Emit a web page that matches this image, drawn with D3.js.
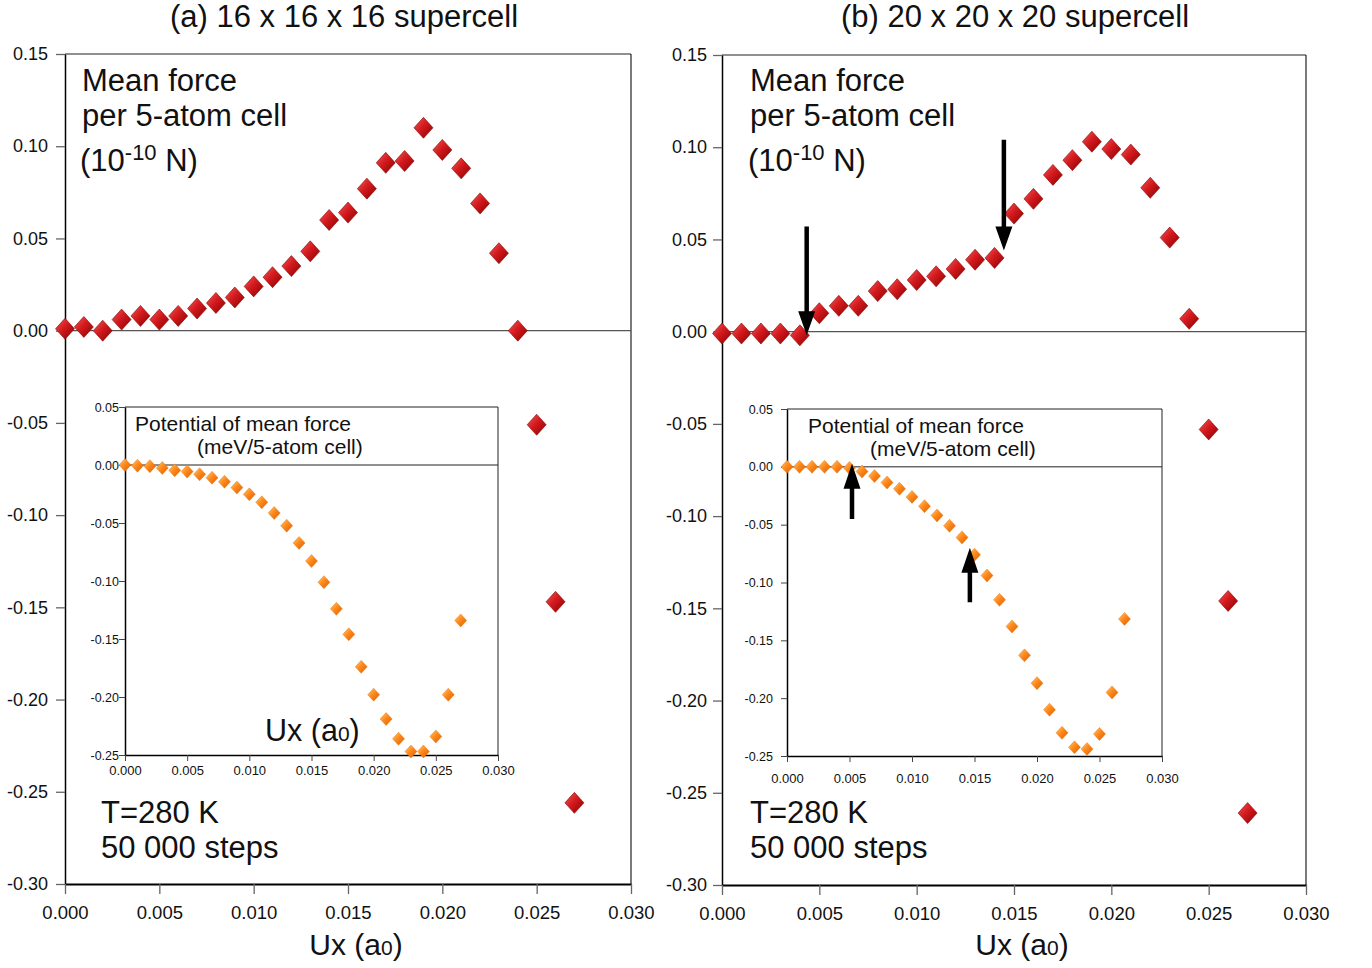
<!DOCTYPE html>
<html>
<head>
<meta charset="utf-8">
<script src="https://cdn.jsdelivr.net/npm/d3@7"></script>
<style>
  html, body { margin: 0; padding: 0; background: #fff; }
  svg { display: block; font-family: "Liberation Sans", Arial, sans-serif; }
</style>
</head>
<body>
<svg id="chart" width="1372" height="968"></svg>
<script>
// ---------------- data ----------------
const uxValues = [0.000,0.001,0.002,0.003,0.004,0.005,0.006,0.007,0.008,0.009,
                  0.010,0.011,0.012,0.013,0.014,0.015,0.016,0.017,0.018,0.019,
                  0.020,0.021,0.022,0.023,0.024,0.025,0.026,0.027];
const force16 = [0.001,0.002,0.000,0.006,0.008,0.006,0.008,0.012,0.015,0.018,
                 0.024,0.029,0.035,0.043,0.060,0.064,0.077,0.091,0.092,0.110,
                 0.098,0.088,0.069,0.042,0.000,-0.051,-0.147,-0.256];
const force20 = [-0.001,-0.001,-0.001,-0.001,-0.002,0.010,0.014,0.014,0.022,0.023,
                 0.028,0.030,0.034,0.039,0.040,0.064,0.072,0.085,0.093,0.103,
                 0.099,0.096,0.078,0.051,0.007,-0.053,-0.146,-0.261];
const pmf16 = [0.000,-0.0006,-0.001,-0.0026,-0.0046,-0.0057,-0.008,-0.011,-0.0144,-0.0195,
               -0.0253,-0.0322,-0.0414,-0.0523,-0.0672,-0.0828,-0.101,-0.124,-0.146,-0.174,
               -0.198,-0.219,-0.236,-0.247,-0.247,-0.234,-0.198,-0.134];
const pmf20 = [0.000,0.000,0.000,0.000,0.000,-0.001,-0.004,-0.008,-0.0136,-0.019,
               -0.026,-0.034,-0.042,-0.051,-0.061,-0.076,-0.094,-0.115,-0.138,-0.163,
               -0.187,-0.210,-0.230,-0.2425,-0.244,-0.231,-0.195,-0.1315];

const mainXTicks = [0.000,0.005,0.010,0.015,0.020,0.025,0.030];
const mainYTicks = [0.15,0.10,0.05,0.00,-0.05,-0.10,-0.15,-0.20,-0.25,-0.30];
const insetXTicks = [0.000,0.005,0.010,0.015,0.020,0.025,0.030];
const insetYTicks = [0.05,0.00,-0.05,-0.10,-0.15,-0.20,-0.25];

const panelTitles = ["(a) 16 x 16 x 16 supercell", "(b) 20 x 20 x 20 supercell"];
// arrows (data coordinates): main panel b points down, inset b points up
const arrowsMain20 = [{x:0.00435, from:0.057, to:-0.002}, {x:0.01448, from:0.104, to:0.044}];
const arrowsInset20 = [{x:0.0052, from:-0.045, to:0.0026}, {x:0.01463, from:-0.117, to:-0.070}];

// ---------------- layout ----------------
const panels = [
  { force: force16, pmf: pmf16, title: panelTitles[0], titleX: 344, arrowsMain: [], arrowsInset: [],
    box: {l:65, r:631, t:54, b:884}, inset: {l:125, r:498, t:407, b:755},
    yLabelX: 48, insetYLabelX: 119, insetXLabelDy: 20, insetAxisLabel: true, textX: 82, textX2: 101 },
  { force: force20, pmf: pmf20, title: panelTitles[1], titleX: 1015, arrowsMain: arrowsMain20, arrowsInset: arrowsInset20,
    box: {l:722, r:1306, t:55, b:885}, inset: {l:787, r:1162, t:409, b:756},
    yLabelX: 707, insetYLabelX: 773, insetXLabelDy: 27, insetAxisLabel: false, textX: 750, textX2: 750 }
];

const svg = d3.select("#chart");
const defs = svg.append("defs");

const red = defs.append("linearGradient").attr("id","gRed")
  .attr("x1","0%").attr("y1","0%").attr("x2","100%").attr("y2","100%");
red.append("stop").attr("offset","0%").attr("stop-color","#f05a5a");
red.append("stop").attr("offset","45%").attr("stop-color","#d41a1e");
red.append("stop").attr("offset","100%").attr("stop-color","#860000");

const orange = defs.append("linearGradient").attr("id","gOrange")
  .attr("x1","0%").attr("y1","0%").attr("x2","100%").attr("y2","100%");
orange.append("stop").attr("offset","0%").attr("stop-color","#ffd27a");
orange.append("stop").attr("offset","45%").attr("stop-color","#ff8a1c");
orange.append("stop").attr("offset","100%").attr("stop-color","#d85e00");

function diamond(w, h) { return `M0,${-h} L${w},0 L0,${h} L${-w},0 Z`; }

function arrowPath(x, y1, y2, shaftW, headW, headL) {
  const dir = y2 > y1 ? 1 : -1;
  const hb = y2 - dir * headL;
  return `M${x-shaftW/2},${y1} L${x+shaftW/2},${y1} L${x+shaftW/2},${hb} L${x+headW/2},${hb}` +
         ` L${x},${y2} L${x-headW/2},${hb} L${x-shaftW/2},${hb} Z`;
}

const f2 = d3.format(".2f"), f3 = d3.format(".3f");
const fmt2 = v => f2(v).replace("\u2212", "-");
const fmt3 = v => f3(v).replace("\u2212", "-");
const FONT = "Liberation Sans, Arial, sans-serif";

panels.forEach(p => {
  const g = svg.append("g");
  const B = p.box;
  const x = d3.scaleLinear().domain([0, 0.030]).range([B.l, B.r]);
  const y = d3.scaleLinear().domain([-0.30, 0.15]).range([B.b, B.t]);

  // title
  g.append("text").attr("x", p.titleX).attr("y", 27)
    .attr("text-anchor","middle").attr("font-size", 31).attr("fill","#111").text(p.title);

  // frame top & right
  g.append("line").attr("x1",B.l).attr("x2",B.r).attr("y1",B.t).attr("y2",B.t)
    .attr("stroke","#222").attr("stroke-width",1.2);
  g.append("line").attr("x1",B.r).attr("x2",B.r).attr("y1",B.t).attr("y2",B.b)
    .attr("stroke","#222").attr("stroke-width",1.2);
  // zero line
  g.append("line").attr("x1",B.l).attr("x2",B.r).attr("y1",y(0)).attr("y2",y(0))
    .attr("stroke","#555").attr("stroke-width",1.4);

  // y axis
  const ya = g.append("g").attr("transform",`translate(${B.l},0)`)
    .call(d3.axisLeft(y).tickValues(mainYTicks).tickFormat(fmt2).tickSize(9).tickSizeOuter(0).tickPadding(4));
  ya.select(".domain").attr("stroke","#000").attr("stroke-width",1.5);
  ya.selectAll(".tick line").attr("stroke","#666").attr("stroke-width",1.3);
  ya.selectAll(".tick text").attr("font-size",18).attr("fill","#111")
    .attr("x", p.yLabelX - B.l).attr("font-family",FONT);

  // x axis
  const xa = g.append("g").attr("transform",`translate(0,${B.b})`)
    .call(d3.axisBottom(x).tickValues(mainXTicks).tickFormat(fmt3).tickSize(10).tickSizeOuter(0).tickPadding(12));
  xa.select(".domain").attr("stroke","#000").attr("stroke-width",2.2);
  xa.selectAll(".tick line").attr("stroke","#666").attr("stroke-width",1.3);
  xa.selectAll(".tick text").attr("font-size",18.5).attr("fill","#111").attr("font-family",FONT);

  // x axis label
  const xl = g.append("text").attr("x",(B.l + B.r)/2 + 8).attr("y",955)
    .attr("text-anchor","middle").attr("font-size",30).attr("fill","#111");
  xl.append("tspan").text("Ux (a");
  xl.append("tspan").attr("font-size",21).text("0");
  xl.append("tspan").text(")");

  // main text
  g.append("text").attr("x",p.textX).attr("y",91).attr("font-size",31).attr("fill","#111").text("Mean force");
  g.append("text").attr("x",p.textX).attr("y",126).attr("font-size",31).attr("fill","#111").text("per 5-atom cell");
  const u = g.append("text").attr("x",p.textX - 2).attr("y",171).attr("font-size",31).attr("fill","#111");
  u.append("tspan").text("(10");
  u.append("tspan").attr("font-size",22).attr("dy",-11).text("-10");
  u.append("tspan").attr("dy",11).text(" N)");
  g.append("text").attr("x",p.textX2).attr("y",823).attr("font-size",31).attr("fill","#111").text("T=280 K");
  g.append("text").attr("x",p.textX2).attr("y",858).attr("font-size",31).attr("fill","#111").text("50 000 steps");

  // main markers
  g.append("g").selectAll("path").data(uxValues.map((ux, i) => [ux, p.force[i]])).join("path")
    .attr("d", diamond(9.5, 10.5))
    .attr("transform", d => `translate(${x(d[0])},${y(d[1])})`)
    .attr("fill","url(#gRed)").attr("stroke","#8a0000").attr("stroke-width",0.6);

  // main arrows
  g.append("g").selectAll("path").data(p.arrowsMain).join("path")
    .attr("d", a => arrowPath(x(a.x), y(a.from), y(a.to), 4.5, 17, 24))
    .attr("fill","#000");

  // ---------------- inset ----------------
  const I = p.inset;
  const ix = d3.scaleLinear().domain([0, 0.030]).range([I.l, I.r]);
  const iy = d3.scaleLinear().domain([-0.25, 0.05]).range([I.b, I.t]);
  const ig = g.append("g");
  ig.append("rect").attr("x",I.l).attr("y",I.t).attr("width",I.r-I.l).attr("height",I.b-I.t)
    .attr("fill","#fff");
  ig.append("line").attr("x1",I.l).attr("x2",I.r).attr("y1",I.t).attr("y2",I.t)
    .attr("stroke","#222").attr("stroke-width",1);
  ig.append("line").attr("x1",I.r).attr("x2",I.r).attr("y1",I.t).attr("y2",I.b)
    .attr("stroke","#222").attr("stroke-width",1);
  ig.append("line").attr("x1",I.l).attr("x2",I.r).attr("y1",iy(0)).attr("y2",iy(0))
    .attr("stroke","#222").attr("stroke-width",1);

  const iya = ig.append("g").attr("transform",`translate(${I.l},0)`)
    .call(d3.axisLeft(iy).tickValues(insetYTicks).tickFormat(fmt2).tickSize(6).tickSizeOuter(0).tickPadding(3));
  iya.select(".domain").attr("stroke","#000").attr("stroke-width",1.5);
  iya.selectAll(".tick line").attr("stroke","#444");
  iya.selectAll(".tick text").attr("font-size",12.5).attr("fill","#111")
    .attr("x", p.insetYLabelX - I.l).attr("font-family",FONT);

  const ixa = ig.append("g").attr("transform",`translate(0,${I.b})`)
    .call(d3.axisBottom(ix).tickValues(insetXTicks).tickFormat(fmt3).tickSize(6).tickSizeOuter(0).tickPadding(3));
  ixa.select(".domain").attr("stroke","#000").attr("stroke-width",1.5);
  ixa.selectAll(".tick line").attr("stroke","#444");
  ixa.selectAll(".tick text").attr("font-size",13).attr("fill","#111")
    .attr("y", p.insetXLabelDy - 9).attr("dy","0.71em").attr("font-family",FONT);

  ig.append("text").attr("x",I.l + (p.insetAxisLabel ? 10 : 21)).attr("y",I.t + 24)
    .attr("font-size",21).attr("fill","#111").text("Potential of mean force");
  ig.append("text").attr("x",I.l + (p.insetAxisLabel ? 72 : 83)).attr("y",I.t + 47)
    .attr("font-size",21).attr("fill","#111").text("(meV/5-atom cell)");

  if (p.insetAxisLabel) {
    const il = ig.append("text").attr("x",I.l + 140).attr("y",I.b - 14)
      .attr("font-size",30.5).attr("fill","#111");
    il.append("tspan").text("Ux (a");
    il.append("tspan").attr("font-size",21).text("0");
    il.append("tspan").text(")");
  }

  ig.append("g").selectAll("path").data(uxValues.map((ux, i) => [ux, p.pmf[i]])).join("path")
    .attr("d", diamond(6, 6.5))
    .attr("transform", d => `translate(${ix(d[0])},${iy(d[1])})`)
    .attr("fill","url(#gOrange)").attr("stroke","#e06a00").attr("stroke-width",0.4);

  ig.append("g").selectAll("path").data(p.arrowsInset).join("path")
    .attr("d", a => arrowPath(ix(a.x), iy(a.from), iy(a.to), 4.5, 17, 25))
    .attr("fill","#000");
});
</script>
</body>
</html>
